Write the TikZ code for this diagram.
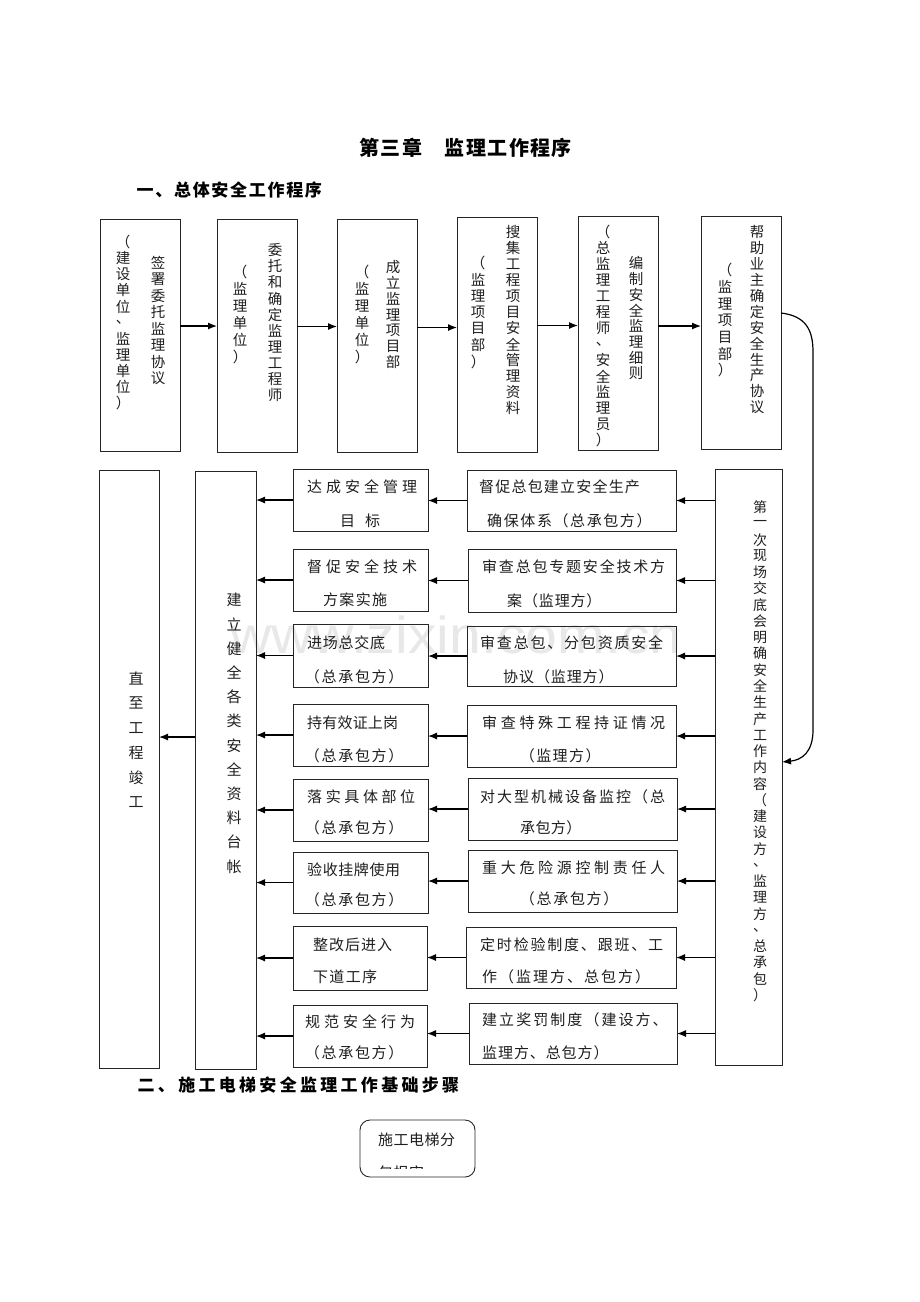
\documentclass[tikz,border=0pt]{standalone}
\usepackage{fontspec}
\setmainfont{Liberation Sans}
\newfontfamily\cjk{Noto Sans CJK SC}
\usetikzlibrary{arrows.meta}
\makeatletter
\newcommand\myrow[2]{\def\my@p{#1}\my@ra#2\relax}
\def\my@ra#1{\ifx\relax#1\else\hbox to \my@p{\hss#1\hss}\expandafter\my@ra\fi}
\newcommand\mycol[2]{\vbox{\offinterlineskip\def\my@q{#1}\my@ca#2\relax}}
\def\my@ca#1{\ifx\relax#1\else\vbox to \my@q{\vss\hbox to 2em{\hss#1\hss}\vss}\expandafter\my@ca\fi}
\makeatother
\tikzset{
  box/.style={draw=black!85, line width=0.9pt, outer sep=0pt, inner sep=0pt},
  arr/.style={-{Latex[length=9pt,width=7pt]}, line width=1.2pt, draw=black},
  txt/.style={inner sep=0pt, text=black!88, font=\cjk\fontsize{15}{18}\selectfont},
  vtxt/.style={inner sep=0pt, text=black!88, font=\cjk\fontsize{14.5}{18}\selectfont},
  vsm/.style={inner sep=0pt, text=black!88, font=\cjk\fontsize{14}{18}\selectfont},
  head/.style={inner sep=0pt, text=black, font=\cjk\bfseries\fontsize{17}{20}\selectfont},
}
\newcommand\bx[5]{\node[box, anchor=north west, minimum width={(#4-#2)*1pt}, minimum height={(#5-#3)*1pt}] (#1) at (#2,#3) {};}
\newcommand\rl[5]{\node[txt, anchor=west] (#1) at ({#2-#4/2},#3) {\myrow{#4pt}{#5}};}
\newcommand\cl[6]{\node[#6, anchor=north] (#1) at (#2,{#3-#4/2}) {\mycol{#4pt}{#5}};}
\begin{document}
\begin{tikzpicture}[x=1pt,y=-1pt]
\useasboundingbox (0,0) rectangle (920,1302);
\fill[white] (0,0) rectangle (920,1302);
% watermark
\node[inner sep=0pt, text=black!9, font=\fontsize{52}{60}\selectfont, xscale=1.1, anchor=base] (wm) at (456,653) {www.zixin.com.cn};
% headings
\node[head, font=\cjk\bfseries\fontsize{20}{24}\selectfont, anchor=west] (title) at ({369-21.4/2},148) {\myrow{21.4pt}{第三章　监理工作程序}};
\node[head, anchor=west] (h1) at ({145-18.7/2},190) {\myrow{18.7pt}{一、总体安全工作程序}};
\node[head, anchor=west] (h2) at ({146-20.3/2},1085) {\myrow{20.3pt}{二、施工电梯安全监理工作基础步骤}};
% top row boxes
\bx{b1}{100}{219}{180}{451}
\bx{b2}{217}{219}{297}{452}
\bx{b3}{337}{219}{417}{452}
\bx{b4}{457}{217}{537}{452}
\bx{b5}{578}{216}{658}{450}
\bx{b6}{701}{216}{781}{449}
\cl{t1a}{158}{263}{16.4}{签署委托监理协议}{vtxt}
\cl{t1b}{123}{242}{16.1}{（建设单位、监理单位）}{vtxt}
\cl{t2a}{275}{250}{16.1}{委托和确定监理工程师}{vtxt}
\cl{t2b}{240}{272}{17}{（监理单位）}{vtxt}
\cl{t3a}{393}{267}{15.8}{成立监理项目部}{vtxt}
\cl{t3b}{362}{272}{17}{（监理单位）}{vtxt}
\cl{t4a}{513}{232}{16}{搜集工程项目安全管理资料}{vtxt}
\cl{t4b}{478}{263}{16.4}{（监理项目部）}{vtxt}
\cl{t5a}{636}{263}{15.7}{编制安全监理细则}{vtxt}
\cl{t5b}{603}{232}{16}{（总监理工程师、安全监理员）}{vtxt}
\cl{t6a}{757}{232}{15.9}{帮助业主确定安全生产协议}{vtxt}
\cl{t6b}{725}{270}{16.7}{（监理项目部）}{vtxt}
\draw[arr] ([yshift=9pt]b1.east) -- ([yshift=9pt]b1.east -| b2.west);
\draw[arr] ([yshift=9pt]b2.east) -- ([yshift=9pt]b2.east -| b3.west);
\draw[arr] ([yshift=8pt]b3.east) -- ([yshift=8pt]b3.east -| b4.west);
\draw[arr] ([yshift=9pt]b4.east) -- ([yshift=9pt]b4.east -| b5.west);
\draw[arr] ([yshift=7pt]b5.east) -- ([yshift=7pt]b5.east -| b6.west);
% tall boxes
\bx{Z}{99}{470}{159}{1068}
\bx{C}{195}{471}{256}{1069}
\bx{R}{715}{469}{782}{1065}
\cl{tZ}{136}{678}{24.8}{直至工程竣工}{txt}
\cl{tC}{234}{600}{24.2}{建立健全各类安全资料台帐}{txt}
\cl{tR}{760}{507}{16.27}{第一次现场交底会明确安全生产工作内容（建设方、监理方、总承包）}{vsm}
% curve from b6 to R
\coordinate (k1) at (813,352);
\coordinate (k2) at (813,730);
\draw[arr] ([yshift=19.5pt]b6.east) .. controls (806,316) and (813,330) .. (k1) -- (k2) .. controls (813,752) and (802,760) .. ([yshift=5pt]R.east);
% middle rows
\bx{l1}{293}{469}{428}{531}
\bx{r1}{467}{470}{676}{531}
\bx{l2}{293}{549}{428}{611}
\bx{r2}{468}{549}{676}{612}
\bx{l3}{293}{624}{428}{687}
\bx{r3}{467}{626}{676}{686}
\bx{l4}{293}{704}{428}{766}
\bx{r4}{467}{705}{676}{767}
\bx{l5}{293}{779}{428}{841}
\bx{r5}{468}{778}{677}{840}
\bx{l6}{293}{852}{428}{913}
\bx{r6}{468}{850}{677}{912}
\bx{l7}{293}{926}{427}{990}
\bx{r7}{466}{927}{676}{988}
\bx{l8}{293}{1005}{427}{1067}
\bx{r8}{469}{1003}{677}{1064}
% texts
\rl{l1a}{314.5}{487}{19}{达成安全管理}
\rl{l1b}{347.5}{521}{25}{目标}
\rl{r1a}{486.5}{487}{16.2}{督促总包建立安全生产}
\rl{r1b}{494.5}{521}{16.6}{确保体系（总承包方）}
\rl{l2a}{314.5}{567}{19}{督促安全技术}
\rl{l2b}{330.5}{600}{16.3}{方案实施}
\rl{r2a}{489.5}{567}{16.8}{审查总包专题安全技术方}
\rl{r2b}{514.5}{601}{15.85}{案（监理方）}
\rl{l3a}{314.5}{643}{15.75}{进场总交底}
\rl{l3b}{312.25}{677}{16.7}{（总承包方）}
\rl{r3a}{487.5}{643}{16.8}{审查总包、分包资质安全}
\rl{r3b}{510.5}{677}{15.9}{协议（监理方）}
\rl{l4a}{314.5}{723}{15.2}{持有效证上岗}
\rl{l4b}{312.25}{756}{16.7}{（总承包方）}
\rl{r4a}{489.5}{723}{18.67}{审查特殊工程持证情况}
\rl{r4b}{527.25}{756}{16.4}{（监理方）}
\rl{l5a}{314.5}{797}{18.6}{落实具体部位}
\rl{l5b}{312.25}{828}{16.7}{（总承包方）}
\rl{r5a}{487.5}{797}{17}{对大型机械设备监控（总}
\rl{r5b}{527.5}{828}{15.4}{承包方）}
\rl{l6a}{314.5}{870}{15.6}{验收挂牌使用}
\rl{l6b}{312.25}{900}{16.7}{（总承包方）}
\rl{r6a}{489.5}{868}{18.67}{重大危险源控制责任人}
\rl{r6b}{527.25}{899}{16.7}{（总承包方）}
\rl{l7a}{320.5}{945}{16}{整改后进入}
\rl{l7b}{320.5}{977}{16.3}{下道工序}
\rl{r7a}{487.5}{945}{16.8}{定时检验制度、跟班、工}
\rl{r7b}{489.5}{977}{17}{作（监理方、总包方）}
\rl{l8a}{312.5}{1022}{19}{规范安全行为}
\rl{l8b}{312.25}{1053}{16.7}{（总承包方）}
\rl{r8a}{489.5}{1020}{17.05}{建立奖罚制度（建设方、}
\rl{r8b}{489.5}{1053}{15.9}{监理方、总包方）}
% arrows
\foreach \i in {1,...,8}{
  \draw[arr] (R.west |- r\i.east) -- (r\i.east);
  \draw[arr] (r\i.west) -- (r\i.west -| l\i.east);
  \draw[arr] (l\i.west) -- (l\i.west -| C.east);
}
\draw[arr] ([yshift=33pt]C.west) -- ([yshift=33pt]C.west -| Z.east);
% bottom rounded box
\node[box, rounded corners=10pt, anchor=north west, minimum width=115pt, minimum height=57pt] (bb) at (360,1120) {};
\rl{bba}{385.5}{1140}{15.5}{施工电梯分}
\begin{scope}
\clip (361,1121) rectangle (474,1168);
\rl{bbb}{385.5}{1173}{15.5}{包报审}
\end{scope}
\end{tikzpicture}
\end{document}
